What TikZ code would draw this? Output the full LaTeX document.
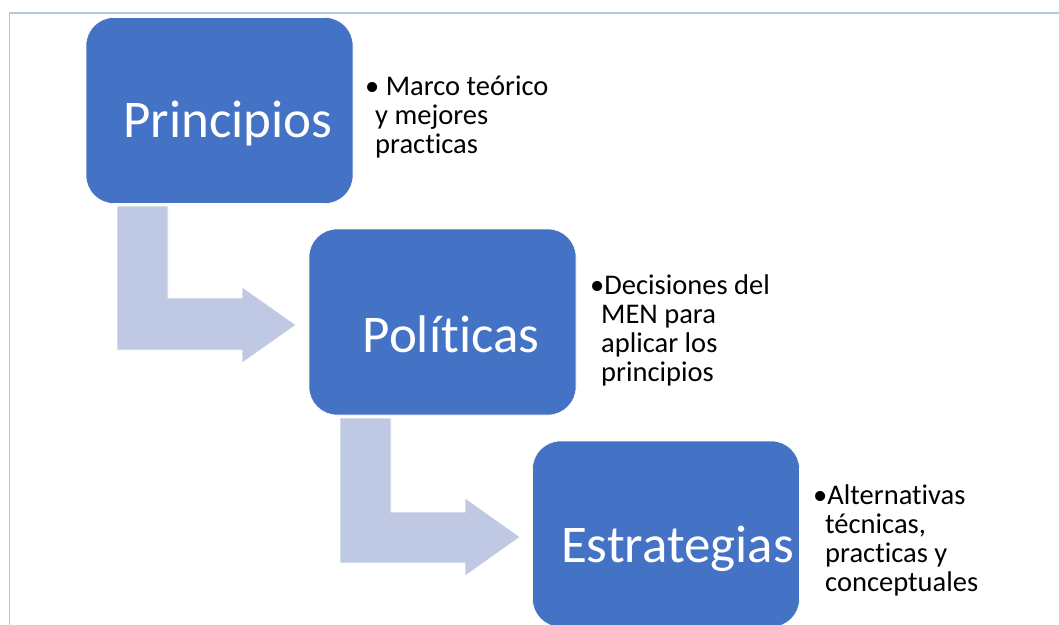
\documentclass[tikz,border=0pt]{standalone}
\usepackage{fontspec}
\setmainfont{Carlito}[Ligatures=NoCommon]
\usetikzlibrary{positioning}

\definecolor{boxblue}{HTML}{4472C4}
\definecolor{arrowblue}{HTML}{BFC9E3}
\definecolor{framelin}{HTML}{B4C7E7}

\begin{document}
\begin{tikzpicture}[x=1pt,y=-1pt,
	box/.style={fill=boxblue, draw=white, line width=0.6pt, rounded corners=28pt,
		minimum width=267pt, minimum height=186pt, inner sep=0pt},
	title/.style={text=white, font=\fontsize{53}{64}\selectfont, inner sep=0pt, anchor=base},
	note/.style={font=\fontsize{28.5}{29}\selectfont, align=left, inner sep=0pt, anchor=base west},
	bendarrow/.style={fill=arrowblue, draw=white, line width=0.6pt}]
			\clip (0,0) rectangle (1059,624);
			
			% Frame
			\draw[framelin, line width=1.5pt] (9.5,640) -- (9.5,13) -- (1070,13);
			
			% Bent arrows
			\draw[bendarrow] (117,206) -- (168,206) -- (168,298) -- (242,298) -- (242,287)
				-- (296,325) -- (242,363) -- (242,350) -- (117,350) -- cycle;
			\draw[bendarrow] (340,418) -- (391,418) -- (391,512) -- (465,512) -- (465,498)
				-- (520,537) -- (465,576) -- (465,563) -- (340,563) -- cycle;
			
			% Boxes
			\node[box] (principios) at (219.5,110.5) {};
			\node[box] (politicas) at (442.5,322) {};
			\node[box] (estrategias) at (666,534) {};
			
			% Titles
			\node[title] (principiosT) at (228,137) {Principios};
			\node[title] (politicasT) at (451,352) {Políticas};
			\node[title] (estrategiasT) at (677.5,562) {Estrategias};
			
			% Notes (anchored at the baseline of the last line)
			\node[note] (principiosN) at (365,153) {• Marco teórico\\\hspace*{10pt}y mejores\\\hspace*{10pt}practicas};
			\node[note] (politicasN) at (590,381) {•Decisiones del\\\hspace*{11pt}MEN para\\\hspace*{11pt}aplicar los\\\hspace*{11pt}principios};
			\node[note] (estrategiasN) at (813,591) {•Alternativas\\\hspace*{12pt}técnicas,\\\hspace*{12pt}practicas y\\\hspace*{12pt}conceptuales};
		\end{tikzpicture}
\end{document}
